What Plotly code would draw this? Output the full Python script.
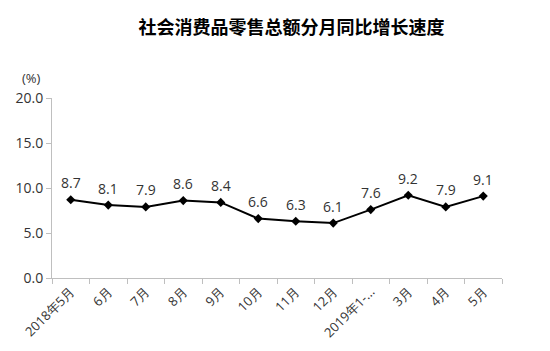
import plotly.graph_objects as go

categories = ["2018年5月", "6月", "7月", "8月", "9月", "10月", "11月", "12月", "2019年1-...", "3月", "4月", "5月"]
values = [8.7, 8.1, 7.9, 8.6, 8.4, 6.6, 6.3, 6.1, 7.6, 9.2, 7.9, 9.1]
y_ticks = [0, 5, 10, 15, 20]

fig = go.Figure()
fig.add_trace(go.Scatter(
    x=categories, y=values,
    mode="lines+markers",
    line=dict(color="black", width=2),
    marker=dict(symbol="diamond", size=7, color="black"),
    showlegend=False,
))

annotations = [dict(x=c, y=v, text=f"{v:.1f}", showarrow=False, yshift=17,
                    xanchor="center", yanchor="middle",
                    font=dict(family="Open Sans, Liberation Sans", size=14, color="#333333"))
               for c, v in zip(categories, values)]
annotations.append(dict(text="(%)", xref="paper", yref="paper", x=-0.045, y=1.11,
                        xanchor="center", yanchor="middle", showarrow=False,
                        font=dict(size=13, color="#333333")))

fig.update_layout(
    width=550, height=351,
    margin=dict(l=52, r=48, t=98, b=73),
    paper_bgcolor="white", plot_bgcolor="white",
    title=dict(text="<b>社会消费品零售总额分月同比增长速度</b>",
               x=0.53, xanchor="center", y=0.92, yanchor="middle",
               font=dict(family="Noto Sans CJK SC", size=18, color="black")),
    font=dict(family="Open Sans, Liberation Sans", size=13, color="#333333"),
    xaxis=dict(
        type="category", automargin=False,
        showline=True, linecolor="#bfbfbf", linewidth=1,
        ticks="outside", tickson="boundaries", ticklen=5, tickcolor="#bfbfbf",
        tickangle=-45, showgrid=False,
        tickfont=dict(size=13, color="#333333"),
        range=[-0.5, 11.5],
    ),
    yaxis=dict(
        range=[0, 20], tickvals=y_ticks, tickformat=".1f", automargin=False,
        showline=True, linecolor="#bfbfbf", linewidth=1,
        ticks="outside", ticklen=5, tickcolor="#bfbfbf",
        showgrid=False, zeroline=False,
        tickfont=dict(size=14, color="#333333"),
    ),
    annotations=annotations,
)

fig.write_html("out.html")
